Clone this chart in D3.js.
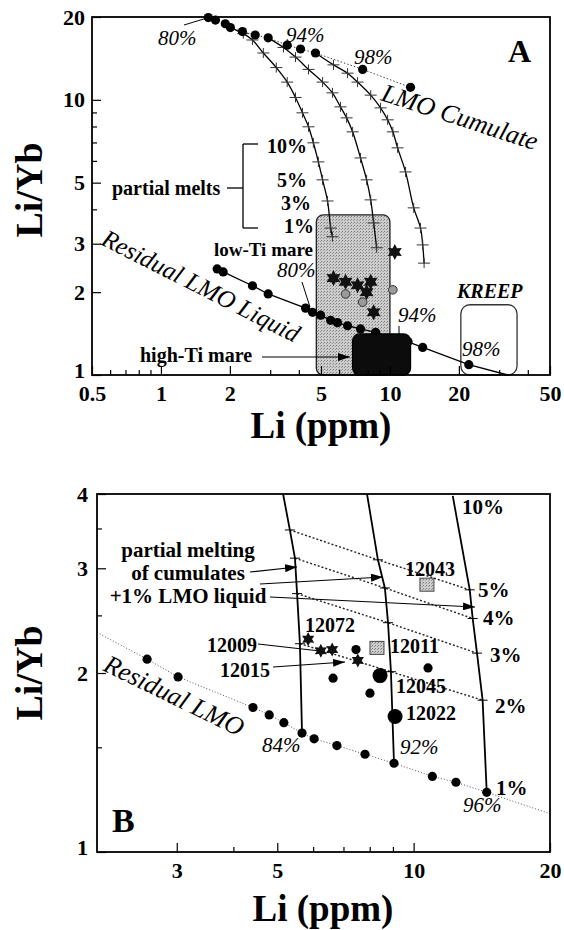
<!DOCTYPE html>
<html>
<head>
<meta charset="utf-8">
<script src="https://cdn.jsdelivr.net/npm/d3@7"></script>
<style>
  body { margin: 0; background: #fff; }
  svg { display: block; }
  text { font-family: "Liberation Serif", "Times New Roman", serif; fill: #000; }
</style>
</head>
<body>
<script>
// -------------------- PANEL A DATA --------------------
// LMO cumulate (80% -> 98% crystallised)
var cumLi    = [1.61, 1.73, 1.91, 2.01, 2.27, 2.58, 2.94, 3.56, 4.07, 4.73, 7.6, 12.3];
var cumRatio = [19.9, 19.5, 18.9, 18.3, 17.7, 17.2, 16.8, 15.8, 15.3, 14.8, 12.9, 11.1];

// partial melts of three cumulates
var meltA1Li    = [2.01, 2.29, 2.51, 2.80, 3.19, 3.56, 3.87, 4.15, 4.41, 4.63, 4.87, 5.08, 5.34, 5.51, 5.61];
var meltA1Ratio = [18.3, 17.4, 16.5, 14.8, 13.1, 11.6, 10.2, 8.97, 7.98, 6.98, 5.95, 5.12, 4.29, 3.42, 3.18];
var meltA2Li    = [2.94, 3.43, 3.87, 4.41, 5.08, 5.61, 6.08, 6.47, 6.87, 7.44, 7.91, 8.24, 8.49, 8.75];
var meltA2Ratio = [16.8, 15.5, 14.3, 12.9, 11.6, 10.6, 9.43, 8.60, 7.65, 6.15, 5.12, 4.33, 3.57, 2.90];
var meltA3Li    = [4.73, 5.67, 6.53, 7.22, 8.24, 9.10, 9.77, 10.3, 10.8, 11.7, 12.7, 13.6, 13.9, 14.1];
var meltA3Ratio = [14.8, 13.4, 12.5, 11.6, 10.4, 9.35, 8.46, 7.65, 6.69, 5.47, 4.05, 3.42, 2.97, 2.55];

// residual LMO liquid
var resLi    = [1.76, 1.87, 2.51, 2.94, 4.28, 4.59, 4.98, 5.51, 5.90, 6.53, 7.44, 8.66, 10.3, 12.0, 13.9, 22.1];
var resRatio = [2.43, 2.37, 2.11, 1.97, 1.75, 1.69, 1.65, 1.58, 1.55, 1.51, 1.47, 1.43, 1.36, 1.32, 1.26, 1.09];
var resTail  = [32.7, 1.0];

// mare basalt samples
var starALi    = [5.67, 6.40, 7.22, 8.24, 7.91, 8.49, 10.5];
var starARatio = [2.25, 2.18, 2.12, 2.18, 2.00, 1.69, 2.80];
var grayALi    = [6.40, 7.60, 10.3];
var grayARatio = [1.97, 1.84, 2.04];

// fields [Li min, Li max], [Li/Yb min, Li/Yb max]
var lowTiLi = [4.77, 10.0],  lowTiRatio = [1, 3.82];
var highTiLi = [6.87, 12.3], highTiRatio = [1, 1.41];
var kreepLi = [20.4, 35.9],  kreepRatio = [1, 1.80];

var xTicksA = [0.5, 1, 2, 5, 10, 20, 50];
var xMinorA = [0.6, 0.7, 0.8, 0.9, 3, 4, 6, 7, 8, 9, 30, 40];
var yTicksA = [1, 2, 3, 5, 10, 20];
var yMinorA = [4, 6, 7, 8, 9];

// -------------------- PANEL B DATA --------------------
var meltPct = [1, 2, 3, 4, 5, 10];
var meltB84Li = [5.67, 5.61, 5.53, 5.47, 5.33, 5.15], meltB84Ratio = [1.585, 2.24, 2.72, 3.12, 3.48, 4.0];
var meltB92Li = [9.05, 8.91, 8.78, 8.64, 8.34, 7.89], meltB92Ratio = [1.41, 2.01, 2.43, 2.78, 3.10, 4.0];
var meltB96Li = [14.5, 14.2, 13.8, 13.5, 13.3, 12.2], meltB96Ratio = [1.26, 1.80, 2.16, 2.47, 2.76, 3.97];

var resBLi    = [2.58, 3.02, 4.42, 4.80, 5.17, 5.67, 6.03, 6.77, 7.81, 9.05, 11.0, 12.4, 14.5];
var resBRatio = [2.11, 1.97, 1.75, 1.70, 1.65, 1.585, 1.55, 1.51, 1.46, 1.41, 1.34, 1.31, 1.26];
var resBStart = [2.0, 2.34], resBEnd = [20, 1.16];

var starBLi    = [5.85, 6.24, 6.61, 7.53];
var starBRatio = [2.28, 2.18, 2.19, 2.10];
var dotBLi     = [7.46, 6.64, 8.01, 10.76];
var dotBRatio  = [2.19, 1.96, 1.85, 2.04];
var bigBNames = ["12045", "12022"], bigBLi = [8.43, 9.10], bigBRatio = [1.98, 1.69];
var sqBNames  = ["12043", "12011"], sqBLi  = [10.7, 8.30], sqBRatio  = [2.81, 2.20];

var xTicksB = [3, 5, 10, 20];
var xMinorB = [4, 6, 7, 8, 9];
var yTicksB = [1, 2, 3, 4];
var yMinorB = [1.5, 2.5, 3.5];

// -------------------- SETUP --------------------
var W = 564, H = 930;
var svg = d3.select("body").append("svg").attr("width", W).attr("height", H);

var xA = d3.scaleLog().domain([0.5, 50]).range([92, 550]);
var yA = d3.scaleLog().domain([1, 20]).range([375, 17]);
var xB = d3.scaleLog().domain([2, 20]).range([97, 550]);
var yB = d3.scaleLog().domain([1, 4]).range([852, 494]);

var defs = svg.append("defs");
defs.append("marker").attr("id", "arrow")
  .attr("viewBox", "0 0 12 8").attr("refX", 12).attr("refY", 4)
  .attr("markerWidth", 12).attr("markerHeight", 8)
  .attr("markerUnits", "userSpaceOnUse").attr("orient", "auto")
  .append("path").attr("d", "M0,0 L12,4 L0,8 z").attr("fill", "#000");

// stippled grey for the low-Ti field
var pat = defs.append("pattern").attr("id", "stip").attr("patternUnits", "userSpaceOnUse")
  .attr("width", 3).attr("height", 3);
pat.append("rect").attr("width", 3).attr("height", 3).attr("fill", "#cdcdcd");
pat.append("rect").attr("width", 1).attr("height", 1).attr("fill", "#7a7a7a");
pat.append("rect").attr("x", 2).attr("y", 1).attr("width", 1).attr("height", 1).attr("fill", "#999");

// six-pointed star symbol
var star6 = {
  draw: function(ctx, size) {
    var r = Math.sqrt(size), ri = r * 0.55;
    for (var i = 0; i < 12; i++) {
      var a = i * Math.PI / 6 - Math.PI / 2, rr = i % 2 ? ri : r;
      if (i === 0) ctx.moveTo(rr * Math.cos(a), rr * Math.sin(a));
      else ctx.lineTo(rr * Math.cos(a), rr * Math.sin(a));
    }
    ctx.closePath();
  }
};

function pts(a, b) { return d3.zip(a, b); }

function axes(x, y, xMaj, xMin, yMaj, yMin, padX, padY) {
  var b = y.range()[0], l = x.range()[0];
  var fmt = function(d) { return String(d); };
  function style(g) {
    g.select(".domain").remove();
    g.selectAll("line").attr("stroke", "#000").attr("stroke-width", 1.2);
    g.selectAll("text").attr("font-size", 22).attr("font-weight", "bold")
      .attr("font-family", "'Liberation Serif', serif").attr("fill", "#000");
  }
  svg.append("g").attr("transform", "translate(0," + b + ")")
    .call(d3.axisBottom(x).tickValues(xMin).tickSize(-5).tickFormat("")).call(style);
  svg.append("g").attr("transform", "translate(0," + b + ")")
    .call(d3.axisBottom(x).tickValues(xMaj).tickSize(-9).tickPadding(padX).tickFormat(fmt)).call(style);
  svg.append("g").attr("transform", "translate(" + l + ",0)")
    .call(d3.axisLeft(y).tickValues(yMin).tickSize(-5).tickFormat("")).call(style);
  svg.append("g").attr("transform", "translate(" + l + ",0)")
    .call(d3.axisLeft(y).tickValues(yMaj).tickSize(-9).tickPadding(padY).tickFormat(fmt)).call(style)
    .selectAll(".tick").filter(function(d) { return d === yMaj[0]; })
    .select("text").attr("dy", "0.12em");   // lowest label sits a little higher

  svg.append("rect")
    .attr("x", x.range()[0]).attr("y", y.range()[1])
    .attr("width", x.range()[1] - x.range()[0]).attr("height", y.range()[0] - y.range()[1])
    .attr("fill", "none").attr("stroke", "#000").attr("stroke-width", 1.8);
}

function label(t, x, y, o) {
  o = o || {};
  var el = svg.append("text").attr("x", x).attr("y", y).text(t)
    .attr("font-size", o.size || 20)
    .attr("font-weight", o.bold === false ? "normal" : "bold")
    .attr("font-style", o.italic ? "italic" : "normal")
    .attr("text-anchor", o.anchor || "start");
  if (o.rot) el.attr("transform", "rotate(" + o.rot + "," + x + "," + y + ")");
  return el;
}

function seg(x1, y1, x2, y2, w, arrow) {
  var l = svg.append("line").attr("x1", x1).attr("y1", y1).attr("x2", x2).attr("y2", y2)
    .attr("stroke", "#000").attr("stroke-width", w || 1.2);
  if (arrow) l.attr("marker-end", "url(#arrow)");
  return l;
}

// ==================== PANEL A ====================
var lineA = d3.line().x(function(d){ return xA(d[0]); }).y(function(d){ return yA(d[1]); });

// fields
function field(li, ra, fill, stroke, r) {
  svg.append("rect")
    .attr("x", xA(li[0])).attr("y", yA(ra[1]))
    .attr("width", xA(li[1]) - xA(li[0])).attr("height", yA(ra[0]) - yA(ra[1]))
    .attr("rx", r).attr("ry", r)
    .attr("fill", fill).attr("stroke", stroke).attr("stroke-width", 1.3);
}
field(lowTiLi, lowTiRatio, "url(#stip)", "#222", 7);
field(kreepLi, kreepRatio, "#fff", "#333", 9);

// partial melt curves
[[meltA1Li, meltA1Ratio], [meltA2Li, meltA2Ratio], [meltA3Li, meltA3Ratio]].forEach(function(c) {
  var p = pts(c[0], c[1]);
  svg.append("path").attr("d", lineA.curve(d3.curveCatmullRom.alpha(0.5))(p))
    .attr("fill", "none").attr("stroke", "#000").attr("stroke-width", 1.3);
  svg.append("g").selectAll("path").data(p.slice(1)).enter().append("path")
    .attr("d", function(d) {
      var cx = xA(d[0]), cy = yA(d[1]);
      return "M" + (cx - 6) + "," + cy + "h12M" + cx + "," + (cy - 5) + "v10";
    })
    .attr("stroke", "#333").attr("stroke-width", 1);
});
lineA.curve(d3.curveLinear);

// cumulate trend
svg.append("path").attr("d", lineA(pts(cumLi, cumRatio)))
  .attr("fill", "none").attr("stroke", "#444").attr("stroke-width", 1).attr("stroke-dasharray", "1.5,2");
svg.append("g").selectAll("circle").data(pts(cumLi, cumRatio)).enter().append("circle")
  .attr("cx", function(d){ return xA(d[0]); }).attr("cy", function(d){ return yA(d[1]); })
  .attr("r", 4.6).attr("fill", "#000");

// residual liquid
var resPts = pts(resLi, resRatio);
svg.append("path").attr("d", lineA(resPts.concat([resTail])))
  .attr("fill", "none").attr("stroke", "#000").attr("stroke-width", 1.3);
svg.append("g").selectAll("circle").data(resPts).enter().append("circle")
  .attr("cx", function(d){ return xA(d[0]); }).attr("cy", function(d){ return yA(d[1]); })
  .attr("r", 4.6).attr("fill", "#000");

// high-Ti field on top
field(highTiLi, highTiRatio, "#0c0c0c", "#000", 7);

// samples
svg.append("g").selectAll("path").data(pts(starALi, starARatio)).enter().append("path")
  .attr("transform", function(d){ return "translate(" + xA(d[0]) + "," + yA(d[1]) + ")"; })
  .attr("d", d3.symbol().type(star6).size(64)).attr("fill", "#111");
svg.append("g").selectAll("circle").data(pts(grayALi, grayARatio)).enter().append("circle")
  .attr("cx", function(d){ return xA(d[0]); }).attr("cy", function(d){ return yA(d[1]); })
  .attr("r", 4.3).attr("fill", "#9a9a9a").attr("stroke", "#333").attr("stroke-width", 1);

axes(xA, yA, xTicksA, xMinorA, yTicksA, yMinorA, 10, 7);

// annotations A
label("80%", 158, 45, { italic: true, bold: false, size: 21 });
seg(184, 25, 207, 18, 1);
label("94%", 286, 42, { italic: true, bold: false, size: 21 });
label("98%", 354, 64, { italic: true, bold: false, size: 21 });
label("LMO Cumulate", 380, 100, { italic: true, bold: false, size: 26, rot: 18 });
label("A", 508, 62, { size: 32 });

label("partial melts", 112, 195, { size: 20 });
seg(227, 188, 243, 188, 1.3);
seg(243, 144, 243, 228, 1.3);
seg(243, 144, 258, 144, 1.3);
seg(243, 228, 258, 228, 1.3);
label("10%", 307, 153, { anchor: "end" });
label("5%", 307, 187, { anchor: "end" });
label("3%", 311, 210, { anchor: "end" });
label("1%", 314, 233, { anchor: "end" });
label("low-Ti mare", 313, 256, { anchor: "end", size: 19 });

label("Residual LMO Liquid", 100, 244, { italic: true, bold: false, size: 25, rot: 27 });
label("80%", 277, 277, { italic: true, bold: false, size: 21 });
seg(302, 282, 310, 307, 1);
label("94%", 398, 322, { italic: true, bold: false, size: 21 });
seg(399, 326, 399, 335, 1);
label("high-Ti mare", 140, 362, { size: 20 });
seg(262, 357, 350, 357, 1.2, true);
label("98%", 462, 356, { italic: true, bold: false, size: 21 });
label("KREEP", 457, 298, { italic: true, size: 20 });

label("Li (ppm)", 321, 438, { size: 37, anchor: "middle" });
label("Li/Yb", 42, 190, { size: 38, anchor: "middle", rot: -90 });

// ==================== PANEL B ====================
var lineB = d3.line().x(function(d){ return xB(d[0]); }).y(function(d){ return yB(d[1]); });
var curvesB = [[meltB84Li, meltB84Ratio], [meltB92Li, meltB92Ratio], [meltB96Li, meltB96Ratio]];

// residual LMO (dotted)
var resBPts = pts(resBLi, resBRatio);
svg.append("path").attr("d", lineB([resBStart].concat(resBPts, [resBEnd])))
  .attr("fill", "none").attr("stroke", "#555").attr("stroke-width", 1).attr("stroke-dasharray", "1,2");

// iso-percent dotted lines (2..5 %)
meltPct.forEach(function(p, i) {
  if (p === 1 || p === 10) return;
  var iso = curvesB.map(function(c){ return [c[0][i], c[1][i]]; });
  svg.append("path").attr("d", lineB(iso))
    .attr("fill", "none").attr("stroke", "#222").attr("stroke-width", 1.4).attr("stroke-dasharray", "2,2");
  iso.forEach(function(d) { seg(xB(d[0]) - 5, yB(d[1]), xB(d[0]) + 5, yB(d[1]), 1); });
});

// melting curves (solid)
curvesB.forEach(function(c) {
  svg.append("path").attr("d", lineB(pts(c[0], c[1])))
    .attr("fill", "none").attr("stroke", "#000").attr("stroke-width", 1.8);
});

svg.append("g").selectAll("circle").data(resBPts).enter().append("circle")
  .attr("cx", function(d){ return xB(d[0]); }).attr("cy", function(d){ return yB(d[1]); })
  .attr("r", 4.6).attr("fill", "#000");

// samples
svg.append("g").selectAll("circle").data(pts(dotBLi, dotBRatio)).enter().append("circle")
  .attr("cx", function(d){ return xB(d[0]); }).attr("cy", function(d){ return yB(d[1]); })
  .attr("r", 4.6).attr("fill", "#000");
svg.append("g").selectAll("circle").data(pts(bigBLi, bigBRatio)).enter().append("circle")
  .attr("cx", function(d){ return xB(d[0]); }).attr("cy", function(d){ return yB(d[1]); })
  .attr("r", 7.5).attr("fill", "#000");
svg.append("g").selectAll("path").data(pts(starBLi, starBRatio)).enter().append("path")
  .attr("transform", function(d){ return "translate(" + xB(d[0]) + "," + yB(d[1]) + ")"; })
  .attr("d", d3.symbol().type(star6).size(49)).attr("fill", "#111");
svg.append("g").selectAll("rect").data(pts(sqBLi, sqBRatio)).enter().append("rect")
  .attr("x", function(d){ return xB(d[0]) - 7; }).attr("y", function(d){ return yB(d[1]) - 7; })
  .attr("width", 14).attr("height", 13)
  .attr("fill", "url(#stip)").attr("stroke", "#444").attr("stroke-width", 1);

axes(xB, yB, xTicksB, xMinorB, yTicksB, yMinorB, 10, 9);

// annotations B
label("10%", 462, 514, { size: 21 });
label("5%", 478, 597, { size: 21 });
label("4%", 483, 625, { size: 21 });
label("3%", 490, 662, { size: 21 });
label("2%", 495, 713, { size: 21 });
label("1%", 496, 795, { size: 21 });
label("96%", 463, 812, { italic: true, bold: false, size: 21 });
label("92%", 400, 754, { italic: true, bold: false, size: 21 });
label("84%", 262, 752, { italic: true, bold: false, size: 21 });
label("Residual LMO", 102, 670, { italic: true, bold: false, size: 26, rot: 26 });
label("B", 112, 832, { size: 34 });

label("partial melting", 188, 557, { size: 21, anchor: "middle" });
label("of cumulates", 188, 580, { size: 21, anchor: "middle" });
label("+1% LMO liquid", 188, 603, { size: 21, anchor: "middle" });
seg(250, 572, 297, 567, 1.2, true);
seg(260, 584, 383, 577, 1.2, true);
seg(270, 597, 475, 607, 1.2, true);

label(sqBNames[0], 405, 576, { size: 20 });
label("12072", 305, 632, { size: 20 });
label(sqBNames[1], 390, 653, { size: 20 });
label("12009", 207, 652, { size: 20 });
seg(258, 644, 320, 651, 1.2);
label("12015", 220, 677, { size: 20 });
seg(273, 667, 345, 662, 1.2, true);
label(bigBNames[0], 396, 693, { size: 20 });
label(bigBNames[1], 406, 720, { size: 20 });

label("Li (ppm)", 323, 921, { size: 37, anchor: "middle" });
label("Li/Yb", 42, 673, { size: 38, anchor: "middle", rot: -90 });
</script>
</body>
</html>
